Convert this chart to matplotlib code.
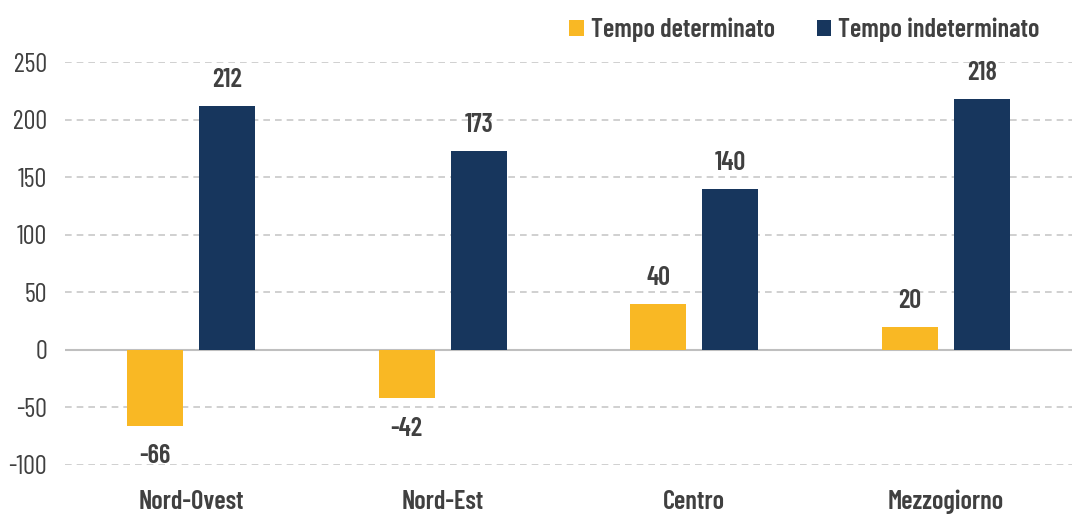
import numpy as np
import matplotlib
matplotlib.use("Agg")
import matplotlib.pyplot as plt
from matplotlib import font_manager

# chart data
categories = ["Nord-Ovest", "Nord-Est", "Centro", "Mezzogiorno"]
determinato = [-66, -42, 40, 20]
indeterminato = [212, 173, 140, 218]
yticks = [-100, -50, 0, 50, 100, 150, 200, 250]

names = {f.name for f in font_manager.fontManager.ttflist}
family = 'DejaVu Sans'
for cand in ['Barlow Condensed', 'Barlow Semi Condensed', 'Roboto Condensed',
             'Liberation Sans Narrow', 'DejaVu Sans Condensed']:
    if cand in names:
        family = cand
        break
plt.rcParams['font.family'] = [family, 'DejaVu Sans']

text_col = '#404040'
yellow = '#F9B824'
navy = '#17365D'
fs = 19

fig = plt.figure(figsize=(10.72, 5.14), dpi=100)
ax = fig.add_axes([65 / 1072, 1 - 465 / 514, 1 - 65 / 1072, 403 / 514])

x = np.arange(len(categories))
w = 0.222
off = 0.143
b1 = ax.bar(x - off, determinato, w, color=yellow, label='Tempo determinato', zorder=3)
b2 = ax.bar(x + off, indeterminato, w, color=navy, label='Tempo indeterminato', zorder=3)

for rect, v in zip(b1, determinato):
    cx = rect.get_x() + rect.get_width() / 2
    if v < 0:
        ax.text(cx, v - 16, str(v), ha='center', va='top', fontsize=fs,
                fontweight='semibold', color=text_col)
    else:
        ax.text(cx, v + 12, str(v), ha='center', va='bottom', fontsize=fs,
                fontweight='semibold', color=text_col)
for rect, v in zip(b2, indeterminato):
    cx = rect.get_x() + rect.get_width() / 2
    ax.text(cx, v + 12, str(v), ha='center', va='bottom', fontsize=fs,
            fontweight='semibold', color=text_col)

ax.set_ylim(-100, 250)
ax.set_xlim(-0.5, len(categories) - 0.5)
ax.set_yticks(yticks)
ax.set_yticklabels([str(t) for t in yticks], fontsize=fs, color=text_col)
ax.set_xticks(x)
ax.set_xticklabels(categories, fontsize=fs, fontweight='semibold', color=text_col)
ax.tick_params(axis='both', length=0)
ax.tick_params(axis='x', pad=18)
ax.tick_params(axis='y', pad=13)

for t in yticks:
    if t == 0:
        ax.axhline(0, color='#BFBFBF', lw=1.5, zorder=2)
    else:
        ax.axhline(t, color='#C8C8C8', lw=1.2, ls=(0, (4, 3)), zorder=1)

for s in ax.spines.values():
    s.set_visible(False)

leg = ax.legend(loc='center right', bbox_to_anchor=(0.978, 1.08), ncol=2, frameon=False,
                fontsize=fs, handlelength=0.55, handleheight=0.55, handletextpad=0.25,
                columnspacing=1.6, borderaxespad=0)
for t in leg.get_texts():
    t.set_color(text_col)
    t.set_fontweight('semibold')

fig.savefig('out.png', dpi=100)
